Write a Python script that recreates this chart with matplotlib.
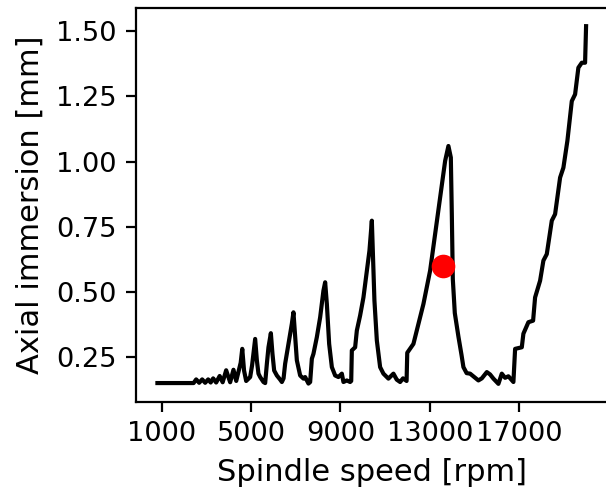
import matplotlib
matplotlib.use("Agg")
import matplotlib.pyplot as plt

# Stability boundary
rpm = [800, 2420, 2536, 2670, 2805, 2939, 3073, 3185, 3297, 3431, 3588, 3722,
       3879, 4058, 4206, 4330, 4530, 4600, 4680, 4775, 4954, 5040, 5102, 5178,
       5254, 5326, 5402, 5550, 5626, 5702, 5774, 5881, 5953, 6029, 6150, 6300,
       6374, 6450, 6521, 6669, 6821, 6893, 6969, 7045, 7193, 7341, 7417, 7565,
       7641, 7717, 7789, 7941, 8089, 8236, 8313, 8389, 8492, 8613, 8761, 8908,
       9060, 9132, 9284, 9432, 9480, 9508, 9656, 9732, 9880, 10028, 10180,
       10297, 10404, 10449, 10520, 10628, 10775, 10923, 11147, 11371, 11520,
       11671, 11800, 11960, 11990, 12267, 12491, 12715, 13015, 13239, 13463,
       13687, 13834, 13942, 13986, 14031, 14120, 14282, 14420, 14506, 14650,
       14806, 15177, 15330, 15554, 15700, 15849, 16073, 16225, 16373, 16521,
       16745, 16821, 17121, 17192, 17416, 17627, 17716, 17940, 18088, 18240,
       18464, 18612, 18836, 18984, 19163, 19360, 19508, 19655, 19808, 19955,
       20000]
depth = [0.152, 0.152, 0.166, 0.153, 0.166, 0.153, 0.166, 0.154, 0.170, 0.154,
         0.179, 0.155, 0.201, 0.155, 0.203, 0.160, 0.230, 0.283, 0.200, 0.160,
         0.175, 0.220, 0.264, 0.321, 0.239, 0.188, 0.175, 0.156, 0.152, 0.226,
         0.289, 0.343, 0.264, 0.200, 0.181, 0.165, 0.156, 0.170, 0.226, 0.302,
         0.379, 0.423, 0.328, 0.239, 0.181, 0.169, 0.175, 0.150, 0.156, 0.245,
         0.264, 0.328, 0.404, 0.506, 0.538, 0.455, 0.302, 0.213, 0.181, 0.175,
         0.188, 0.156, 0.162, 0.156, 0.160, 0.277, 0.289, 0.353, 0.411, 0.480,
         0.583, 0.659, 0.774, 0.659, 0.468, 0.315, 0.213, 0.188, 0.169, 0.188,
         0.165, 0.156, 0.170, 0.160, 0.268, 0.302, 0.379, 0.455, 0.583, 0.723,
         0.863, 1.003, 1.060, 1.016, 0.800, 0.550, 0.420, 0.330, 0.260, 0.213,
         0.190, 0.188, 0.162, 0.170, 0.194, 0.185, 0.169, 0.149, 0.188, 0.172,
         0.178, 0.156, 0.283, 0.289, 0.341, 0.385, 0.391, 0.480, 0.544, 0.621,
         0.646, 0.774, 0.799, 0.939, 0.977, 1.080, 1.232, 1.258, 1.360, 1.379,
         1.379, 1.519]

point_rpm = [13580]
point_depth = [0.60]

xticks = [1000, 5000, 9000, 13000, 17000]

fig = plt.figure(figsize=(3.03, 2.47), dpi=200)
ax = fig.add_axes([0.2244, 0.1868, 0.7781, 0.7964])
ax.plot(rpm, depth, color="black", lw=1.5)
ax.plot(point_rpm, point_depth, "o", color="red", ms=7.5, zorder=5)
ax.set_xticks(xticks)
ax.tick_params(labelsize=9.8)
ax.set_xlabel("Spindle speed [rpm]", fontsize=11)
ax.set_ylabel("Axial immersion [mm]", fontsize=11)
fig.savefig("out.png", dpi=200)
